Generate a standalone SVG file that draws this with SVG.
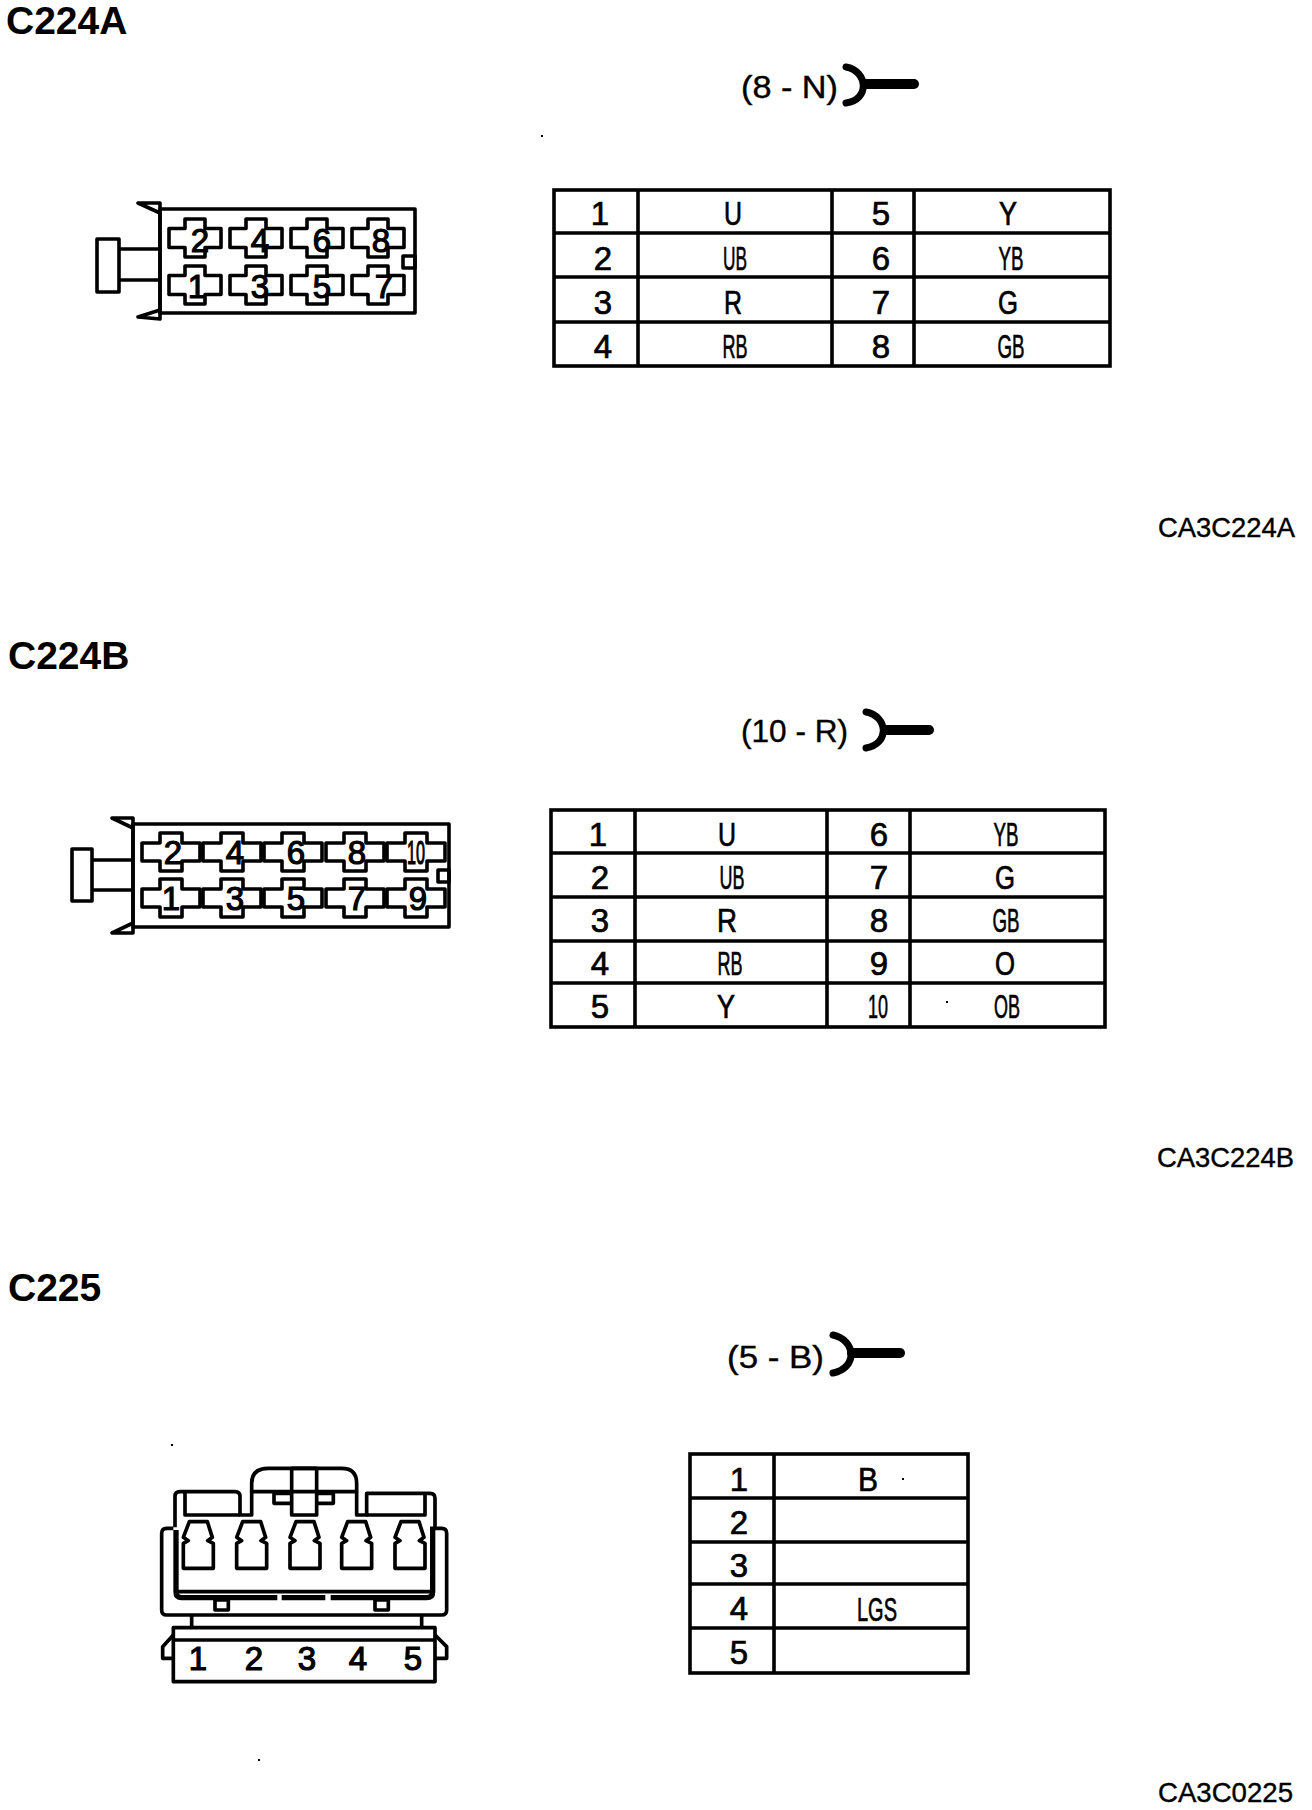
<svg xmlns="http://www.w3.org/2000/svg" xmlns:xlink="http://www.w3.org/1999/xlink" width="1312" height="1810" viewBox="0 0 1312 1810">
<style>
text{font-family:"Liberation Sans",Arial,sans-serif;fill:#000}
.t{font-size:39px;font-weight:bold}
.c{font-size:28px;stroke:#000;stroke-width:.4}
.w{font-size:32px;stroke:#000;stroke-width:.4}
.n{font-size:33px;text-anchor:middle;stroke:#000;stroke-width:.7}
.s{font-size:33px;text-anchor:middle;stroke:#000;stroke-width:.7}
.p{font-size:33px;text-anchor:middle;stroke:#000;stroke-width:1.2}
.g{fill:none;stroke:#000;stroke-width:3.6}
.f{fill:none;stroke:#000;stroke-width:7;stroke-linecap:round}
.h{fill:none;stroke:#000;stroke-width:10;stroke-linecap:round}
.l{fill:none;stroke:#000;stroke-width:3.6;stroke-linejoin:round}
.z{fill:none;stroke:#000;stroke-width:11;stroke-linejoin:round}
.zt{fill:none;stroke:#000;stroke-width:16}
</style>
<defs>
<path id="crossA" class="l" d="M-10 -19H10V-9.500H26V9.500H10V19H-10V9.500H-26V-9.500H-10Z"/>
<path id="crossB" class="l" d="M-11 -19H11V-9H29V9H11V19H-11V9H-29V-9H-11Z"/>
<path id="term" class="z" d="M-27 215H27L42 262L28 272L45 280V355H-45V280L-30 272L-45 262Z"/>
</defs>
<rect width="1312" height="1810" fill="#fff"/>

<g id="c224a">
<text class="t" x="6" y="34">C224A</text>
<text class="w" x="741" y="98" textLength="97" lengthAdjust="spacingAndGlyphs">(8 - N)</text>
<path class="f" d="M846 67C868 71 870 100 846 103"/>
<path class="h" d="M866 84H914"/>
<text class="c" x="1158" y="537" textLength="137" lengthAdjust="spacingAndGlyphs">CA3C224A</text>
<rect x="541" y="135" width="2" height="2"/>
</g>
<g id="c224a-connector">
<rect class="l" x="160" y="209" width="255" height="104"/>
<path class="l" d="M160 203V319M138 203H160V213ZM138 317L160 319V310ZM119 249H160M119 280H160"/>
<rect class="l" x="97" y="239" width="22" height="53"/>
<rect class="l" x="403" y="256" width="12" height="12"/>
<use xlink:href="#crossA" x="195" y="238"/><use xlink:href="#crossA" x="256" y="238"/><use xlink:href="#crossA" x="317" y="238"/><use xlink:href="#crossA" x="378" y="238"/>
<use xlink:href="#crossA" x="195" y="285"/><use xlink:href="#crossA" x="256" y="285"/><use xlink:href="#crossA" x="317" y="285"/><use xlink:href="#crossA" x="378" y="285"/>
<text class="p" x="200" y="252">2</text><text class="p" x="260" y="252">4</text><text class="p" x="322" y="252">6</text><text class="p" x="381" y="252">8</text>
<text class="p" x="197" y="298">1</text><text class="p" x="260" y="298">3</text><text class="p" x="322" y="298">5</text><text class="p" x="384" y="298">7</text>
</g>
<g id="c224a-table">
<rect class="g" x="554" y="190" width="556" height="176"/>
<path class="g" d="M638 190V366M832 190V366M914 190V366M554 233H1110M554 277H1110M554 322H1110"/>
<text class="n" x="600" y="225">1</text><text class="n" x="603" y="270">2</text><text class="n" x="603" y="314">3</text><text class="n" x="603" y="358">4</text>
<text class="n" x="881" y="225">5</text><text class="n" x="881" y="270">6</text><text class="n" x="881" y="314">7</text><text class="n" x="881" y="358">8</text>
<text class="s" x="733" y="225" textLength="18" lengthAdjust="spacingAndGlyphs">U</text>
<text class="s" x="735" y="270" textLength="24" lengthAdjust="spacingAndGlyphs">UB</text>
<text class="s" x="733" y="314" textLength="18" lengthAdjust="spacingAndGlyphs">R</text>
<text class="s" x="735" y="358" textLength="25" lengthAdjust="spacingAndGlyphs">RB</text>
<text class="s" x="1008" y="225" textLength="18" lengthAdjust="spacingAndGlyphs">Y</text>
<text class="s" x="1011" y="270" textLength="25" lengthAdjust="spacingAndGlyphs">YB</text>
<text class="s" x="1008" y="314" textLength="20" lengthAdjust="spacingAndGlyphs">G</text>
<text class="s" x="1011" y="358" textLength="27" lengthAdjust="spacingAndGlyphs">GB</text>
</g>

<g id="c224b">
<text class="t" x="8" y="669">C224B</text>
<text class="w" x="741" y="742" textLength="107" lengthAdjust="spacingAndGlyphs">(10 - R)</text>
<path class="f" d="M866 712C888 716 890 744 866 748"/>
<path class="h" d="M885 730H929"/>
<text class="c" x="1157" y="1167" textLength="137" lengthAdjust="spacingAndGlyphs">CA3C224B</text>
<rect x="946" y="1001" width="2" height="2"/>
</g>
<g id="c224b-connector">
<rect class="l" x="133" y="824" width="316" height="103"/>
<path class="l" d="M133 818V933M112 818H133V828ZM112 933H133V923ZM92 860H133M92 890H133"/>
<rect class="l" x="72" y="849" width="20" height="52"/>
<rect class="l" x="438" y="870" width="11" height="12"/>
<use xlink:href="#crossB" x="171" y="852"/><use xlink:href="#crossB" x="232" y="852"/><use xlink:href="#crossB" x="293" y="852"/><use xlink:href="#crossB" x="355" y="852"/><use xlink:href="#crossB" x="416" y="852"/>
<use xlink:href="#crossB" x="171" y="898"/><use xlink:href="#crossB" x="232" y="898"/><use xlink:href="#crossB" x="293" y="898"/><use xlink:href="#crossB" x="355" y="898"/><use xlink:href="#crossB" x="416" y="898"/>
<text class="p" x="173" y="864">2</text><text class="p" x="235" y="864">4</text><text class="p" x="296" y="864">6</text><text class="p" x="357" y="864">8</text><text class="p" x="416" y="864" textLength="18" lengthAdjust="spacingAndGlyphs">10</text>
<text class="p" x="171" y="910">1</text><text class="p" x="235" y="910">3</text><text class="p" x="296" y="910">5</text><text class="p" x="357" y="910">7</text><text class="p" x="418" y="910">9</text>
</g>
<g id="c224b-table">
<rect class="g" x="551" y="810" width="554" height="217"/>
<path class="g" d="M635 810V1027M827 810V1027M910 810V1027M551 853H1105M551 897H1105M551 941H1105M551 983H1105"/>
<text class="n" x="598" y="846">1</text><text class="n" x="600" y="889">2</text><text class="n" x="600" y="932">3</text><text class="n" x="600" y="975">4</text><text class="n" x="600" y="1018">5</text>
<text class="n" x="879" y="846">6</text><text class="n" x="879" y="889">7</text><text class="n" x="879" y="932">8</text><text class="n" x="879" y="975">9</text><text class="n" x="878" y="1018" textLength="20" lengthAdjust="spacingAndGlyphs">10</text>
<text class="s" x="727" y="846" textLength="18" lengthAdjust="spacingAndGlyphs">U</text>
<text class="s" x="732" y="889" textLength="25" lengthAdjust="spacingAndGlyphs">UB</text>
<text class="s" x="727" y="932" textLength="20" lengthAdjust="spacingAndGlyphs">R</text>
<text class="s" x="730" y="975" textLength="25" lengthAdjust="spacingAndGlyphs">RB</text>
<text class="s" x="726" y="1018" textLength="18" lengthAdjust="spacingAndGlyphs">Y</text>
<text class="s" x="1006" y="846" textLength="25" lengthAdjust="spacingAndGlyphs">YB</text>
<text class="s" x="1005" y="889" textLength="20" lengthAdjust="spacingAndGlyphs">G</text>
<text class="s" x="1006" y="932" textLength="27" lengthAdjust="spacingAndGlyphs">GB</text>
<text class="s" x="1005" y="975" textLength="20" lengthAdjust="spacingAndGlyphs">O</text>
<text class="s" x="1007" y="1018" textLength="26" lengthAdjust="spacingAndGlyphs">OB</text>
</g>

<g id="c225">
<text class="t" x="8" y="1301">C225</text>
<text class="w" x="727" y="1368" textLength="97" lengthAdjust="spacingAndGlyphs">(5 - B)</text>
<path class="f" d="M833 1335C856 1340 858 1368 833 1373"/>
<path class="h" d="M852 1353H900"/>
<text class="c" x="1158" y="1802" textLength="135" lengthAdjust="spacingAndGlyphs">CA3C0225</text>
<rect x="171" y="1444" width="2" height="2"/><rect x="258" y="1759" width="2" height="2"/><rect x="902" y="1478" width="2" height="2"/>
</g>
<g id="c225-connector">
<g transform="translate(140 1450) scale(.33333)">
<path class="z" d="M335 125V100Q335 55 385 55H605Q650 55 650 100V195H680V130H870Q885 130 885 145V232"/>
<path class="z" d="M105 232V140Q105 125 120 125H285Q300 125 300 140V195H335V125H650"/>
<path class="z" d="M680 195H855V130M135 125V195H300"/>
<rect class="z" x="455" y="55" width="75" height="140"/>
<path class="z" d="M455 130H402V160H455M530 130H580V160H530"/>
<path class="z" d="M100 235H80Q65 235 65 250V480Q65 495 80 495H905Q920 495 920 480V250Q920 235 905 235H870"/>
<path class="zt" d="M108 240V425Q108 443 125 443H412M425 443H556M572 443H860Q878 443 878 425V240"/>
<path class="z" d="M110 425H875"/>
<rect class="z" x="225" y="450" width="40" height="30"/>
<rect class="z" x="705" y="450" width="40" height="30"/>
<path class="z" d="M155 495V533M845 495V533"/>
<rect class="z" x="100" y="533" width="785" height="162"/>
<path class="z" d="M100 570H885M100 555L68 590V625H100M885 555L920 590V625H885"/>
<use xlink:href="#term" x="175"/><use xlink:href="#term" x="335"/><use xlink:href="#term" x="495"/><use xlink:href="#term" x="650"/><use xlink:href="#term" x="810"/>
</g>
<text class="p" x="198" y="1670">1</text><text class="p" x="254" y="1670">2</text><text class="p" x="307" y="1670">3</text><text class="p" x="358" y="1670">4</text><text class="p" x="413" y="1670">5</text>
</g>
<g id="c225-table">
<rect class="g" x="690" y="1454" width="278" height="219"/>
<path class="g" d="M774 1454V1673M690 1498H968M690 1542H968M690 1584H968M690 1628H968"/>
<text class="n" x="739" y="1491">1</text><text class="n" x="739" y="1534">2</text><text class="n" x="739" y="1577">3</text><text class="n" x="739" y="1620">4</text><text class="n" x="739" y="1664">5</text>
<text class="s" x="868" y="1491" textLength="20" lengthAdjust="spacingAndGlyphs">B</text>
<text class="s" x="877" y="1621" textLength="40" lengthAdjust="spacingAndGlyphs">LGS</text>
</g>
</svg>
